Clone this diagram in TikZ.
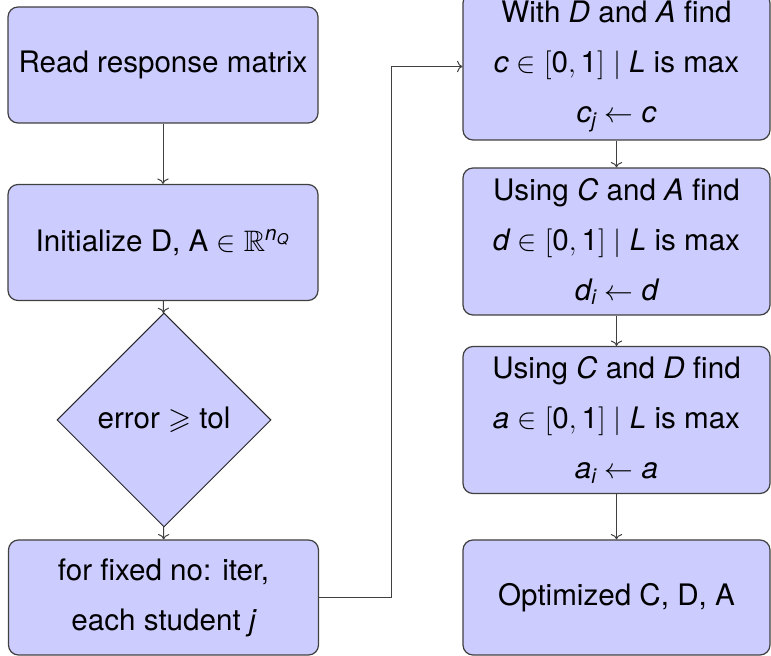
\documentclass[tikz,border=0pt]{standalone}
\usepackage{amsmath,amssymb}
\usepackage{fontspec}
\setmainfont{TeX Gyre Heros}
\usetikzlibrary{shapes.geometric,arrows.meta}

\newcommand{\vi}[1]{\textit{#1}}

\begin{document}
\begin{tikzpicture}[x=0.5pt,y=-0.5pt,
  font=\fontsize{14.8}{25}\selectfont,
  box/.style={draw=black!75, line width=0.6pt, fill=blue!20, rounded corners=5pt,
    align=center, inner sep=0pt},
  leftbox/.style={box, minimum width=155pt, minimum height=58pt},
  rightbox/.style={box, minimum width=153.5pt, minimum height=73.5pt},
  endbox/.style={box, minimum width=153.5pt, minimum height=57.5pt},
  test/.style={draw=black!85, line width=0.5pt, fill=blue!20, diamond, aspect=1,
    minimum width=107pt, minimum height=107pt, inner sep=0pt},
  arr/.style={->, draw=black!75, line width=0.5pt}]
\useasboundingbox (0,0) rectangle (771,656);

% left column: set-up and outer loop
\node[leftbox] (read) at (163,65) {Read response matrix};
\node[leftbox] (init) at (163,242.5) {Initialize D, A $\in\mathbb{R}^{\vi{n}_{\vi{Q}}}$};
\node[test] (cond) at (164,420) {error $\geqslant$ tol};
\node[leftbox, minimum height=57.5pt] (loop) at (163.5,597.5)
  {for fixed no: iter,\\ each student $\vi{j}$};

% right column: coordinate-wise maximisation
\node[rightbox] (findc) at (616.5,66.5)
  {With $\vi{D}$ and $\vi{A}$ find\\
   $\vi{c}\in[\text{0},\text{1}]\mid\vi{L}$ is max\\
   $\vi{c}_{\vi{j}}\leftarrow\vi{c}$};
\node[rightbox] (findd) at (616.5,241.5)
  {Using $\vi{C}$ and $\vi{A}$ find\\
   $\vi{d}\in[\text{0},\text{1}]\mid\vi{L}$ is max\\
   $\vi{d}_{\vi{i}}\leftarrow\vi{d}$};
\node[rightbox] (finda) at (616.5,420)
  {Using $\vi{C}$ and $\vi{D}$ find\\
   $\vi{a}\in[\text{0},\text{1}]\mid\vi{L}$ is max\\
   $\vi{a}_{\vi{i}}\leftarrow\vi{a}$};
\node[endbox] (done) at (616.5,597.5) {Optimized C, D, A};

\coordinate (bend) at (391,0);

\draw[arr] (read) -- (init);
\draw[arr] (init) -- (cond);
\draw[arr] (cond) -- (loop);
\draw[arr] (loop.east) -- (loop.east -| bend) |- (findc.west);
\draw[arr] (findc) -- (findd);
\draw[arr] (findd) -- (finda);
\draw[arr] (finda) -- (done);
\end{tikzpicture}
\end{document}
